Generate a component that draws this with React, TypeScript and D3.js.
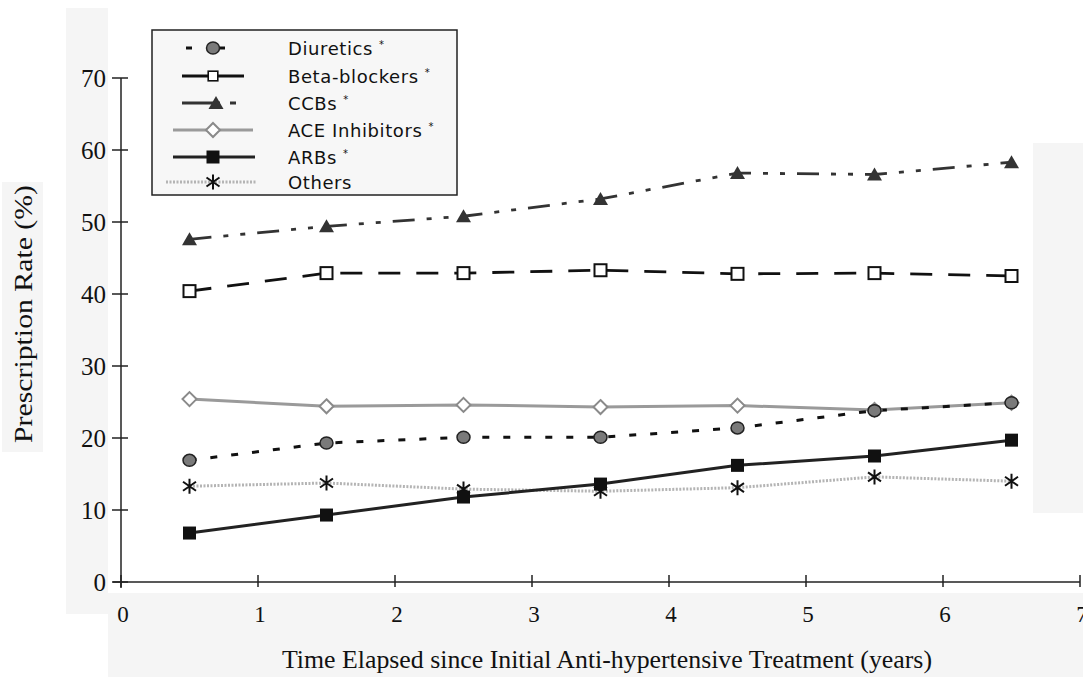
import React from "react";
import * as d3 from "d3";

const years = [0.5, 1.5, 2.5, 3.5, 4.5, 5.5, 6.5];
const diuretics = [16.9, 19.3, 20.1, 20.1, 21.4, 23.8, 24.9];
const betaBlockers = [40.4, 42.9, 42.9, 43.3, 42.8, 42.9, 42.5];
const ccbs = [47.6, 49.4, 50.8, 53.2, 56.8, 56.6, 58.3];
const aceInhibitors = [25.4, 24.4, 24.6, 24.3, 24.5, 23.9, 24.9];
const arbs = [6.8, 9.3, 11.8, 13.6, 16.2, 17.5, 19.7];
const others = [13.3, 13.75, 12.9, 12.6, 13.1, 14.6, 14.0];

const xTicks = [0, 1, 2, 3, 4, 5, 6, 7];
const yTicks = [0, 10, 20, 30, 40, 50, 60, 70];

const legendLabels = ["Diuretics", "Beta-blockers", "CCBs", "ACE Inhibitors", "ARBs", "Others"];
const legendStar = [true, true, true, true, true, false];

type Marker = "circle" | "openSquare" | "triangle" | "diamond" | "square" | "asterisk";

interface Series {
  key: string;
  values: number[];
  stroke: string;
  width: number;
  dash: string;
  marker: Marker;
}

const series: Series[] = [
  { key: "ace", values: aceInhibitors, stroke: "#9a9a9a", width: 3, dash: "", marker: "diamond" },
  { key: "others", values: others, stroke: "#b4b4b4", width: 3, dash: "2,1.5", marker: "asterisk" },
  { key: "diuretics", values: diuretics, stroke: "#111", width: 3, dash: "7,14", marker: "circle" },
  { key: "beta", values: betaBlockers, stroke: "#111", width: 2.8, dash: "22,16", marker: "openSquare" },
  { key: "ccb", values: ccbs, stroke: "#333", width: 2.8, dash: "22,12,5,12,5,12", marker: "triangle" },
  { key: "arbs", values: arbs, stroke: "#222", width: 3, dash: "", marker: "square" },
];

const legendSeries: Series[] = [
  series[2], series[3], series[4], series[0], series[5], series[1],
];

function MarkerShape({ type, cx, cy, s = 1 }: { type: Marker; cx: number; cy: number; s?: number }) {
  const t = `translate(${cx},${cy}) scale(${s})`;
  switch (type) {
    case "circle":
      return <ellipse transform={t} rx={6.5} ry={6} fill="#7a7a7a" stroke="#222" strokeWidth={1.5} />;
    case "openSquare":
      return <rect transform={t} x={-6} y={-6} width={12} height={12} fill="#fff" stroke="#111" strokeWidth={2} />;
    case "triangle":
      return <path transform={t} d="M0,-7 L7.5,6 L-7.5,6 Z" fill="#333" />;
    case "diamond":
      return <path transform={t} d="M0,-7 L7,0 L0,7 L-7,0 Z" fill="#fff" stroke="#8a8a8a" strokeWidth={2} />;
    case "square":
      return <rect transform={t} x={-6.5} y={-6.5} width={13} height={13} fill="#111" />;
    case "asterisk":
      return (
        <path
          transform={t}
          d="M0,-7.5 L0,7.5 M-6.5,-4.5 L6.5,4.5 M-6.5,4.5 L6.5,-4.5"
          stroke="#111"
          strokeWidth={2}
          fill="none"
        />
      );
  }
  return null;
}

export default function App() {
  const W = 1083;
  const H = 677;
  const x = d3.scaleLinear().domain([0, 7]).range([121, 1080]);
  const y = d3.scaleLinear().domain([0, 70]).range([582, 78]);
  const line = d3
    .line<number>()
    .x((_, i) => x(years[i]))
    .y((d) => y(d));

  const serif = "'Liberation Serif', 'Times New Roman', serif";
  const sans = "'DejaVu Sans', Verdana, sans-serif";

  const legendRows = [48, 76, 103, 130, 157, 182];
  const legendLine: [number, number][] = [
    [186, 236],
    [182, 244],
    [182, 236],
    [173, 253],
    [173, 255],
    [166, 257],
  ];

  return (
    <svg width={W} height={H} style={{ position: "absolute", left: 0, top: 0, background: "#fff" }}>
      {/* faint scan panels */}
      <rect x={2} y={182} width={41} height={270} fill="#f5f5f5" />
      <rect x={66} y={8} width={42} height={606} fill="#f5f5f5" />
      <rect x={108} y={593} width={975} height={84} fill="#f5f5f5" />
      <rect x={1033} y={143} width={50} height={370} fill="#f5f5f5" />

      {/* axes */}
      <line x1={x(0)} x2={x(0)} y1={y(70)} y2={588} stroke="#222" strokeWidth={1.5} />
      <line x1={113} x2={x(7)} y1={y(0)} y2={y(0)} stroke="#222" strokeWidth={1.5} />
      {yTicks.map((t) => (
        <g key={"y" + t}>
          <line x1={112} x2={128} y1={y(t)} y2={y(t)} stroke="#222" strokeWidth={1.5} />
          <text x={106} y={y(t) + 8.5} textAnchor="end" fontFamily={serif} fontSize={25} fill="#111">
            {t}
          </text>
        </g>
      ))}
      {xTicks.map((t) => (
        <g key={"x" + t}>
          <line x1={x(t)} x2={x(t)} y1={575} y2={587} stroke="#222" strokeWidth={1.5} />
          <text x={x(t) + 2} y={622} textAnchor="middle" fontFamily={serif} fontSize={23} fill="#111">
            {t}
          </text>
        </g>
      ))}

      <text
        x={282}
        y={668}
        fontFamily={serif}
        fontSize={25}
        fill="#111"
        textLength={650}
        lengthAdjust="spacingAndGlyphs"
      >
        Time Elapsed since Initial Anti-hypertensive Treatment (years)
      </text>
      <text
        transform="translate(32,314) rotate(-90)"
        textAnchor="middle"
        fontFamily={serif}
        fontSize={26}
        fill="#111"
        textLength={258}
        lengthAdjust="spacingAndGlyphs"
      >
        Prescription Rate (%)
      </text>

      {/* series lines */}
      {series.map((s) => (
        <path
          key={"l" + s.key}
          d={line(s.values) || ""}
          fill="none"
          stroke={s.stroke}
          strokeWidth={s.width}
          strokeDasharray={s.dash || undefined}
        />
      ))}
      {/* markers */}
      {series.map((s) =>
        s.values.map((v, i) => (
          <MarkerShape key={s.key + i} type={s.marker} cx={x(years[i])} cy={y(v)} />
        ))
      )}

      {/* legend */}
      <rect x={152} y={30} width={305} height={165} fill="#f7f7f7" stroke="#222" strokeWidth={1.5} />
      {legendSeries.map((s, i) => {
        const [a, b] = legendLine[i];
        const cy = legendRows[i];
        const dash = s.key === "diuretics" ? "6,27" : s.key === "ccb" ? "38,10,6,100" : s.key === "beta" ? "" : s.dash;
        return (
          <g key={"lg" + s.key}>
            <line
              x1={a}
              x2={b}
              y1={cy}
              y2={cy}
              stroke={s.stroke}
              strokeWidth={s.width}
              strokeDasharray={dash || undefined}
            />
            <MarkerShape type={s.marker} cx={s.key === "ccb" ? 216 : 213} cy={cy} s={s.key === "beta" ? 0.8 : 1} />
            <text x={288} y={cy + 6.5} fontFamily={sans} fontSize={18} letterSpacing={0.6} fill="#111">
              {legendLabels[i]}
              {legendStar[i] ? (
                <tspan dx={6} dy={-7} fontSize={10}>
                  *
                </tspan>
              ) : null}
            </text>
          </g>
        );
      })}
    </svg>
  );
}
